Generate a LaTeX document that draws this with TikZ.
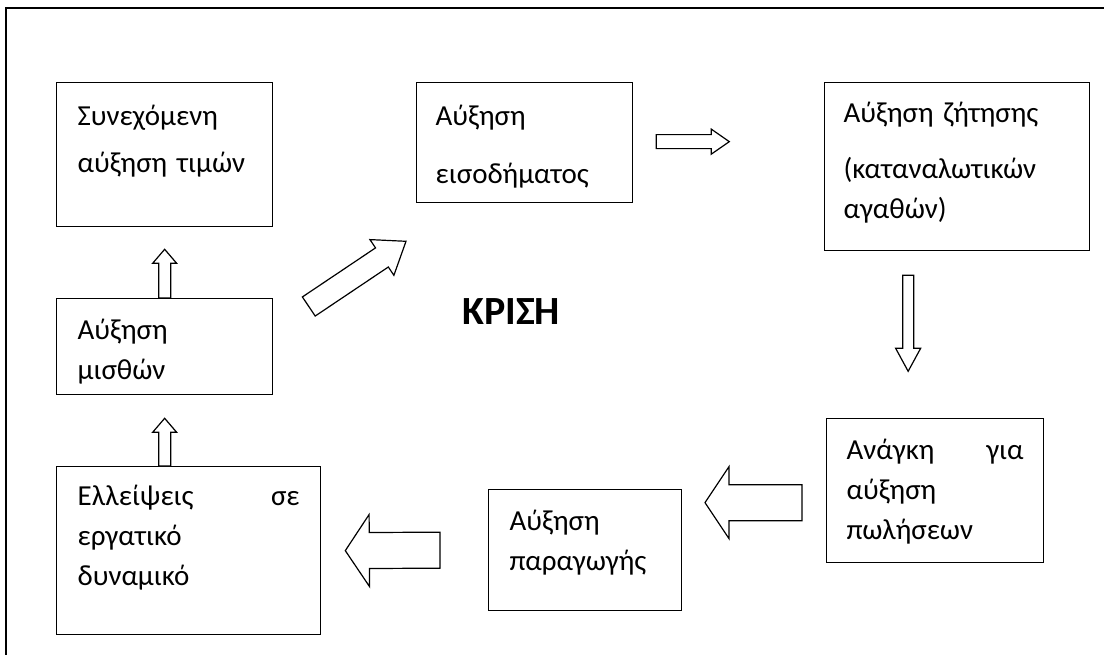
\documentclass[tikz,border=0pt]{standalone}
\usepackage{fontspec}
\setmainfont{Carlito}
\usetikzlibrary{calc}

\tikzset{
  box/.style={draw, line width=1.3pt, anchor=north west, align=left, inner ysep=0pt,
    font=\fontsize{29}{40}\selectfont},
  fatarrow/.style={draw, fill=white, line width=1.2pt, line join=miter},
}

% hollow block arrow: tail, tip, shaft half width, head half width, head length
\newcommand{\blockarrow}[5]{%
  \coordinate (hb) at ($(#2)!#5pt!(#1)$);
  \draw[fatarrow] ($(#1)!#3pt!90:(#2)$) -- ($(hb)!#3pt!90:(#2)$) -- ($(hb)!#4pt!90:(#2)$)
    -- (#2) -- ($(hb)!#4pt!-90:(#2)$) -- ($(hb)!#3pt!-90:(#2)$) -- ($(#1)!#3pt!-90:(#2)$) -- cycle;}

\begin{document}
\begin{tikzpicture}[x=1pt, y=-1pt]
        \useasboundingbox (0,0) rectangle (1104,655);
        \draw[line width=1.3pt] (1104,8) -- (6,8) -- (6,655);

        \node[box, text width=174pt, inner xsep=21pt, text height=43pt, text depth=101pt] (prices) at (56,82) {Συνεχόμενη\\[7pt]αύξηση τιμών};
        \node[box, text width=174pt, inner xsep=21pt, text height=41pt, text depth=55pt] (wages) at (56,298) {Αύξηση\\μισθών};
        \node[box, text width=222pt, inner xsep=21pt, text height=39pt, text depth=129pt] (shortage) at (56,466) {Ελλείψεις \hfill σε\\εργατικό\\δυναμικό};
        \node[box, text width=151pt, inner xsep=21pt, text height=41pt, text depth=80pt] (output) at (488,489) {Αύξηση\\παραγωγής};
        \node[box, text width=177pt, inner xsep=20pt, text height=41pt, text depth=103pt] (sales) at (826,418) {Ανάγκη \hfill για\\αύξηση\\πωλήσεων};
        \node[box, text width=227pt, inner xsep=19pt, text height=40pt, text depth=128pt] (demand) at (824,82) {Αύξηση ζήτησης\\[16pt](καταναλωτικών\\αγαθών)};
        \node[box, text width=178pt, inner xsep=19pt, text height=43pt, text depth=77pt] (income) at (416,82) {Αύξηση\\[18pt]εισοδήματος};

        \node[font=\bfseries\fontsize{40}{48}\selectfont, anchor=base west, inner sep=0pt] (crisis) at (462,325) {ΚΡΙΣΗ};

        % arrow ends
        \coordinate (a1) at (wages.north);
        \coordinate (a2) at ($(prices.south)+(0,22)$);
        \coordinate (b1) at (wages.south |- shortage.north);
        \coordinate (b2) at ($(wages.south)+(0,23)$);
        \coordinate (c1) at ($(sales.west)+(-24,12)$);
        \coordinate (c2) at ($(c1)+(-97,0)$);
        \coordinate (d1) at ($(output.west)+(-48,0)$);
        \coordinate (d2) at ($(shortage.east)+(24,0)$);
        \coordinate (e1) at ($(demand.south)+(-49,24)$);
        \coordinate (e2) at ($(e1)+(0,96)$);
        \coordinate (f1) at ($(income.east)+(23,-1)$);
        \coordinate (f2) at ($(f1)+(73,0)$);
        \coordinate (g1) at ($(wages.north east)+(35.5,8.5)$);
        \coordinate (g2) at ($(income.south west)+(-10,38)$);

        \blockarrow{a1}{a2}{6}{12}{14}
        \blockarrow{b1}{b2}{6}{12}{14}
        \blockarrow{c1}{c2}{18}{36}{24}
        \blockarrow{d1}{d2}{18}{36}{24}
        \blockarrow{e1}{e2}{5.5}{12.5}{23}
        \blockarrow{f1}{f2}{7}{12.5}{18}
        \blockarrow{g1}{g2}{11.5}{21.5}{29}
    \end{tikzpicture}
\end{document}
